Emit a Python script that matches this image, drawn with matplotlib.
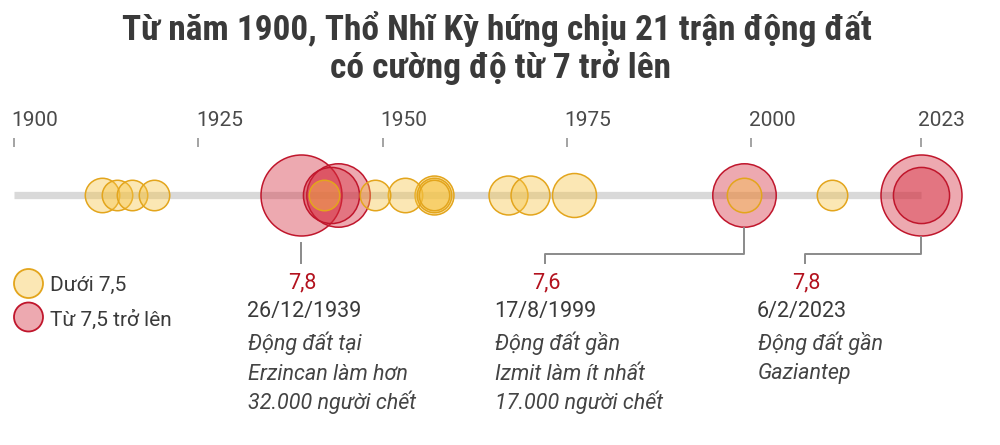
import matplotlib
matplotlib.use("Agg")
import matplotlib.pyplot as plt
from matplotlib import font_manager
import matplotlib.transforms as mtransforms

# ---------------- data ----------------
years = [1912, 1914, 1916, 1919, 1939, 1942, 1943, 1944, 1949, 1953,
         1957, 1957, 1957, 1967, 1970, 1976, 1999, 1999, 2011, 2023, 2023]
magnitudes = [7.1, 7.0, 7.0, 7.0, 7.8, 7.0, 7.5, 7.6, 7.0, 7.1,
              7.2, 7.1, 7.0, 7.2, 7.2, 7.3, 7.6, 7.1, 7.0, 7.8, 7.5]
threshold = 7.5
tick_years = [1900, 1925, 1950, 1975, 2000, 2023]
legend_labels = ["Dưới 7,5", "Từ 7,5 trở lên"]
title_lines = ["Từ năm 1900, Thổ Nhĩ Kỳ hứng chịu 21 trận động đất",
               "có cường độ từ 7 trở lên"]
ann_years = [1939, 1999, 2023]
ann_values = ["7,8", "7,6", "7,8"]
ann_dates = ["26/12/1939", "17/8/1999", "6/2/2023"]
ann_notes = [["Động đất tại", "Erzincan làm hơn", "32.000 người chết"],
             ["Động đất gần", "Izmit làm ít nhất", "17.000 người chết"],
             ["Động đất gần", "Gaziantep"]]

# ---------------- style ----------------
W, H, DPI = 1000, 445, 100
PPY = 7.37                      # pixels per year
X0 = 1900 - 14 / PPY
names = {f.name for f in font_manager.fontManager.ttflist}
if "Roboto Condensed" in names:
    title_font = "Roboto Condensed"
elif "Liberation Sans Narrow" in names:
    title_font = "Liberation Sans Narrow"
else:
    title_font = "Roboto"
base_font = ["Roboto", "DejaVu Sans"]
plt.rcParams["font.family"] = base_font

YEL_FACE = (0.97, 0.77, 0.27, 0.40)
YEL_EDGE = "#E3A51C"
RED_FACE = (0.83, 0.16, 0.23, 0.40)
RED_EDGE = "#C0162C"
TXT = "#3a3a3a"
RED_TXT = "#B3121E"
LINE = "#8a8a8a"


def radius_px(m):
    return 40.5 * 1.13 ** ((m - 7.8) * 10)


fig = plt.figure(figsize=(W / DPI, H / DPI), dpi=DPI)
ax = fig.add_axes([0, 0, 1, 1])
ax.set_xlim(X0, X0 + W / PPY)
ax.set_ylim(H, 0)
ax.axis("off")
pix = mtransforms.Affine2D().scale(1 / W, -1 / H).translate(0, 1) + fig.transFigure

# title
fig.text(0.497, 1 - 40 / H, title_lines[0], ha="center", va="baseline",
         fontsize=25.5, fontweight="bold", color=TXT, family=[title_font, "DejaVu Sans"])
fig.text(0.5, 1 - 78 / H, title_lines[1], ha="center", va="baseline",
         fontsize=25.5, fontweight="bold", color=TXT, family=[title_font, "DejaVu Sans"])

# ticks
AXIS_Y = 195
ax.vlines(tick_years, 138, 147, color="#8a8a8a", lw=1.1)
for ty in tick_years:
    ax.text(ty - 0.3, 125.5, str(ty), ha="left", va="baseline", fontsize=15, color="#4a4a4a")

# timeline bar
ax.plot([tick_years[0], tick_years[-1]], [AXIS_Y, AXIS_Y], color="#d9d9d9",
        lw=7.3 * 72 / DPI, solid_capstyle="butt", zorder=1)

# circles
order = sorted(range(len(years)), key=lambda i: -magnitudes[i])
for i in order:
    m = magnitudes[i]
    r = radius_px(m)
    big = m >= threshold
    ax.scatter([years[i]], [AXIS_Y], s=(2 * r * 72 / DPI) ** 2,
               facecolor=RED_FACE if big else YEL_FACE,
               edgecolor=RED_EDGE if big else YEL_EDGE,
               linewidth=1.1, zorder=2)

# legend
for k, (lab, face, edge) in enumerate(zip(legend_labels, [YEL_FACE, RED_FACE], [YEL_EDGE, RED_EDGE])):
    cy = [283.5, 317][k]
    fig.add_artist(plt.Circle((28.5, cy), 14.5, transform=pix, facecolor=face,
                              edgecolor=edge, linewidth=1.3))
    fig.text(50 / W, 1 - [291, 326][k] / H, lab, ha="left", va="baseline",
             fontsize=15, color=TXT)

# annotations
anchor_px = [None, 545, 805]
text_left_px = [247, 494, 757]
for j, yr in enumerate(ann_years):
    cx = ax.transData.transform((yr, 0))[0]
    r = max(radius_px(magnitudes[i]) for i in range(len(years)) if years[i] == yr)
    if anchor_px[j] is None:
        xs, ys = [cx, cx], [AXIS_Y + r + 7, 263]
        ax_x = cx
    else:
        ax_x = anchor_px[j]
        ys = [AXIS_Y + r + 1.5, 254, 254, 263]
        xs = [cx, cx, ax_x, ax_x]
    fig.add_artist(plt.Line2D(xs, ys, transform=pix, color=LINE, lw=1.4))
    fig.text((ax_x + 1) / W, 1 - 288 / H, ann_values[j], ha="center", va="baseline",
             fontsize=15.5, color=RED_TXT)
    fig.text(text_left_px[j] / W, 1 - 317 / H, ann_dates[j], ha="left", va="baseline",
             fontsize=15.5, color=TXT)
    for n, line in enumerate(ann_notes[j]):
        fig.text((text_left_px[j] + 1) / W, 1 - (350 + 29.5 * n) / H, line, ha="left",
                 va="baseline", fontsize=15.5, style="italic", color="#444444")

fig.savefig("out.png", dpi=DPI, facecolor="white")
